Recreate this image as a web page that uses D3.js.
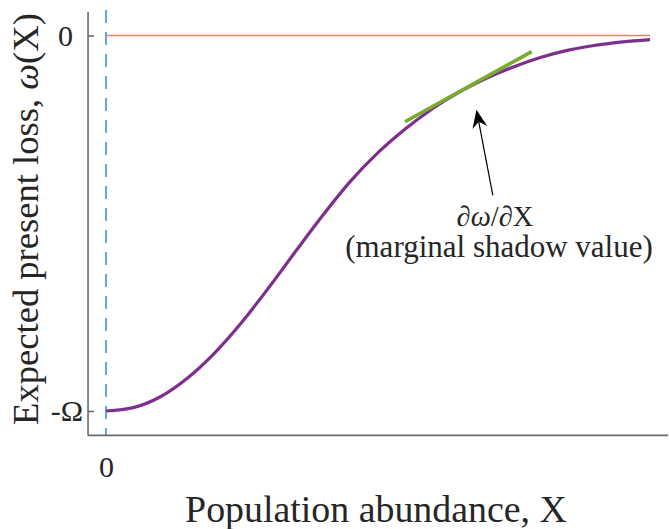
<!DOCTYPE html>
<html>
<head>
<meta charset="utf-8">
<script src="https://cdn.jsdelivr.net/npm/d3@7"></script>
<style>
  html, body { margin: 0; padding: 0; background: #fff; }
  svg { display: block; }
  text { font-family: "Liberation Serif", "Times New Roman", serif; fill: #262626; }
</style>
</head>
<body>
<svg id="chart" width="669" height="529"></svg>
<script>
// ---- data ----
const curveX = [0.00, 0.05, 0.10, 0.15, 0.20, 0.25, 0.30, 0.35, 0.40, 0.45, 0.50, 0.55, 0.60, 0.65, 0.70, 0.75, 0.80, 0.85, 0.90, 0.95, 1.00];
const curveY = [-1.000, -0.991, -0.962, -0.912, -0.845, -0.763, -0.670, -0.572, -0.476, -0.387, -0.312, -0.249, -0.195, -0.150, -0.113, -0.083, -0.058, -0.039, -0.026, -0.017, -0.011];
const tangentX = [0.5496, 0.7825];
const tangentY = [-0.2296, -0.0431];
const zeroLineX = [0, 1];
const zeroLineY = [0, 0];
const arrowFrom = [0.711, -0.425];
const arrowTo = [0.681, -0.198];
const yTickValues = [-1, 0];
const yTickLabels = ["-Ω", "0"];
const xTickValues = [0];
const xTickLabels = ["0"];
const xLimits = [-0.033, 1.033];
const yLimits = [-1.065, 0.0626];

// ---- scales ----
const svg = d3.select("#chart");
const x = d3.scaleLinear().domain([0, 1]).range([106, 650]);
const y = d3.scaleLinear().domain([-1, 0]).range([411, 35.5]);

const axisColor = "#6a6a6a";

function fit(sel, target) {
  const fs = parseFloat(sel.attr("font-size"));
  const w = sel.node().getComputedTextLength();
  sel.attr("font-size", (fs * target / w).toFixed(2));
}

// ---- reference lines ----
svg.append("line")
  .attr("x1", x(0)).attr("x2", x(0))
  .attr("y1", y(yLimits[1]) - 2).attr("y2", y(yLimits[0]))
  .attr("stroke", "#3d93d6").attr("stroke-width", 1.6)
  .attr("stroke-dasharray", "13,9");

svg.append("line")
  .attr("x1", x(zeroLineX[0])).attr("x2", x(zeroLineX[1]))
  .attr("y1", y(zeroLineY[0])).attr("y2", y(zeroLineY[1]))
  .attr("stroke", "#e8845c").attr("stroke-width", 1.6);

// ---- axes ----
const yAxis = d3.axisLeft(y).tickValues(yTickValues)
  .tickFormat((d, i) => yTickLabels[i]).tickSizeInner(-6).tickSizeOuter(0);
const gy = svg.append("g").attr("transform", `translate(${x(xLimits[0])},0)`).call(yAxis);
gy.select(".domain").remove();
gy.selectAll(".tick line").attr("stroke", axisColor).attr("stroke-width", 1.6);
gy.selectAll(".tick text")
  .attr("font-family", "Liberation Serif").attr("font-size", 30)
  .attr("fill", "#262626")
  .attr("dy", "0.33em")
  .attr("x", d => d === 0 ? -15 : -5);

const xAxis = d3.axisBottom(x).tickValues(xTickValues)
  .tickFormat((d, i) => xTickLabels[i]).tickSize(0);
const gx = svg.append("g").attr("transform", `translate(0,${y(yLimits[0])})`).call(xAxis);
gx.select(".domain").remove();
gx.selectAll(".tick text")
  .attr("font-family", "Liberation Serif").attr("font-size", 30)
  .attr("fill", "#262626").attr("y", 42).attr("dy", 0);

// spines
svg.append("line")
  .attr("x1", x(xLimits[0])).attr("x2", x(xLimits[0]))
  .attr("y1", y(yLimits[1])).attr("y2", y(yLimits[0]))
  .attr("stroke", axisColor).attr("stroke-width", 1.6);
svg.append("line")
  .attr("x1", x(xLimits[0])).attr("x2", x(xLimits[1]))
  .attr("y1", y(yLimits[0])).attr("y2", y(yLimits[0]))
  .attr("stroke", axisColor).attr("stroke-width", 1.6);

// ---- curve ----
const pts = curveX.map((d, i) => [d, curveY[i]]);
const line = d3.line().x(d => x(d[0])).y(d => y(d[1])).curve(d3.curveMonotoneX);
svg.append("path").datum(pts)
  .attr("d", line).attr("fill", "none")
  .attr("stroke", "#7e2f8e").attr("stroke-width", 3.2);

// tangent
svg.append("line")
  .attr("x1", x(tangentX[0])).attr("y1", y(tangentY[0]))
  .attr("x2", x(tangentX[1])).attr("y2", y(tangentY[1]))
  .attr("stroke", "#77ac30").attr("stroke-width", 3.6);

// ---- arrow ----
{
  const x0 = x(arrowFrom[0]), y0 = y(arrowFrom[1]);
  const x1 = x(arrowTo[0]), y1 = y(arrowTo[1]);
  const ang = Math.atan2(y1 - y0, x1 - x0);
  const L = 18, W = 7.5, back = 12;
  const ux = Math.cos(ang), uy = Math.sin(ang);
  const px = -uy, py = ux;
  const bx = x1 - ux * L, by = y1 - uy * L;
  const nx = x1 - ux * back, ny = y1 - uy * back;
  svg.append("line")
    .attr("x1", x0).attr("y1", y0).attr("x2", nx).attr("y2", ny)
    .attr("stroke", "#000").attr("stroke-width", 1.2);
  svg.append("path")
    .attr("d", `M${x1},${y1} L${bx + px * W},${by + py * W} L${nx},${ny} L${bx - px * W},${by - py * W} Z`)
    .attr("fill", "#000");
}

// ---- annotation text (one block, two lines) ----
const ann = svg.append("text").attr("text-anchor", "middle").attr("font-size", 28.5);
const l1 = ann.append("tspan").attr("x", 495).attr("y", 226);
l1.append("tspan").attr("font-style", "italic").text("∂ω");
l1.append("tspan").text("/");
l1.append("tspan").attr("font-style", "italic").text("∂");
l1.append("tspan").text("X");
ann.append("tspan").attr("x", 499).attr("y", 257).style("font-size", "31px")
  .text("(marginal shadow value)");

// ---- axis labels ----
const xl = svg.append("text").attr("x", 376).attr("y", 522)
  .attr("text-anchor", "middle").attr("font-size", 33).text("Population abundance, X");
fit(xl, 382);

const yl = svg.append("text")
  .attr("transform", "translate(38,219) rotate(-90)")
  .attr("text-anchor", "middle").attr("font-size", 31);
yl.append("tspan").text("Expected present loss, ");
yl.append("tspan").attr("font-style", "italic").text("ω");
yl.append("tspan").text("(X)");
fit(yl, 412);
</script>
</body>
</html>
